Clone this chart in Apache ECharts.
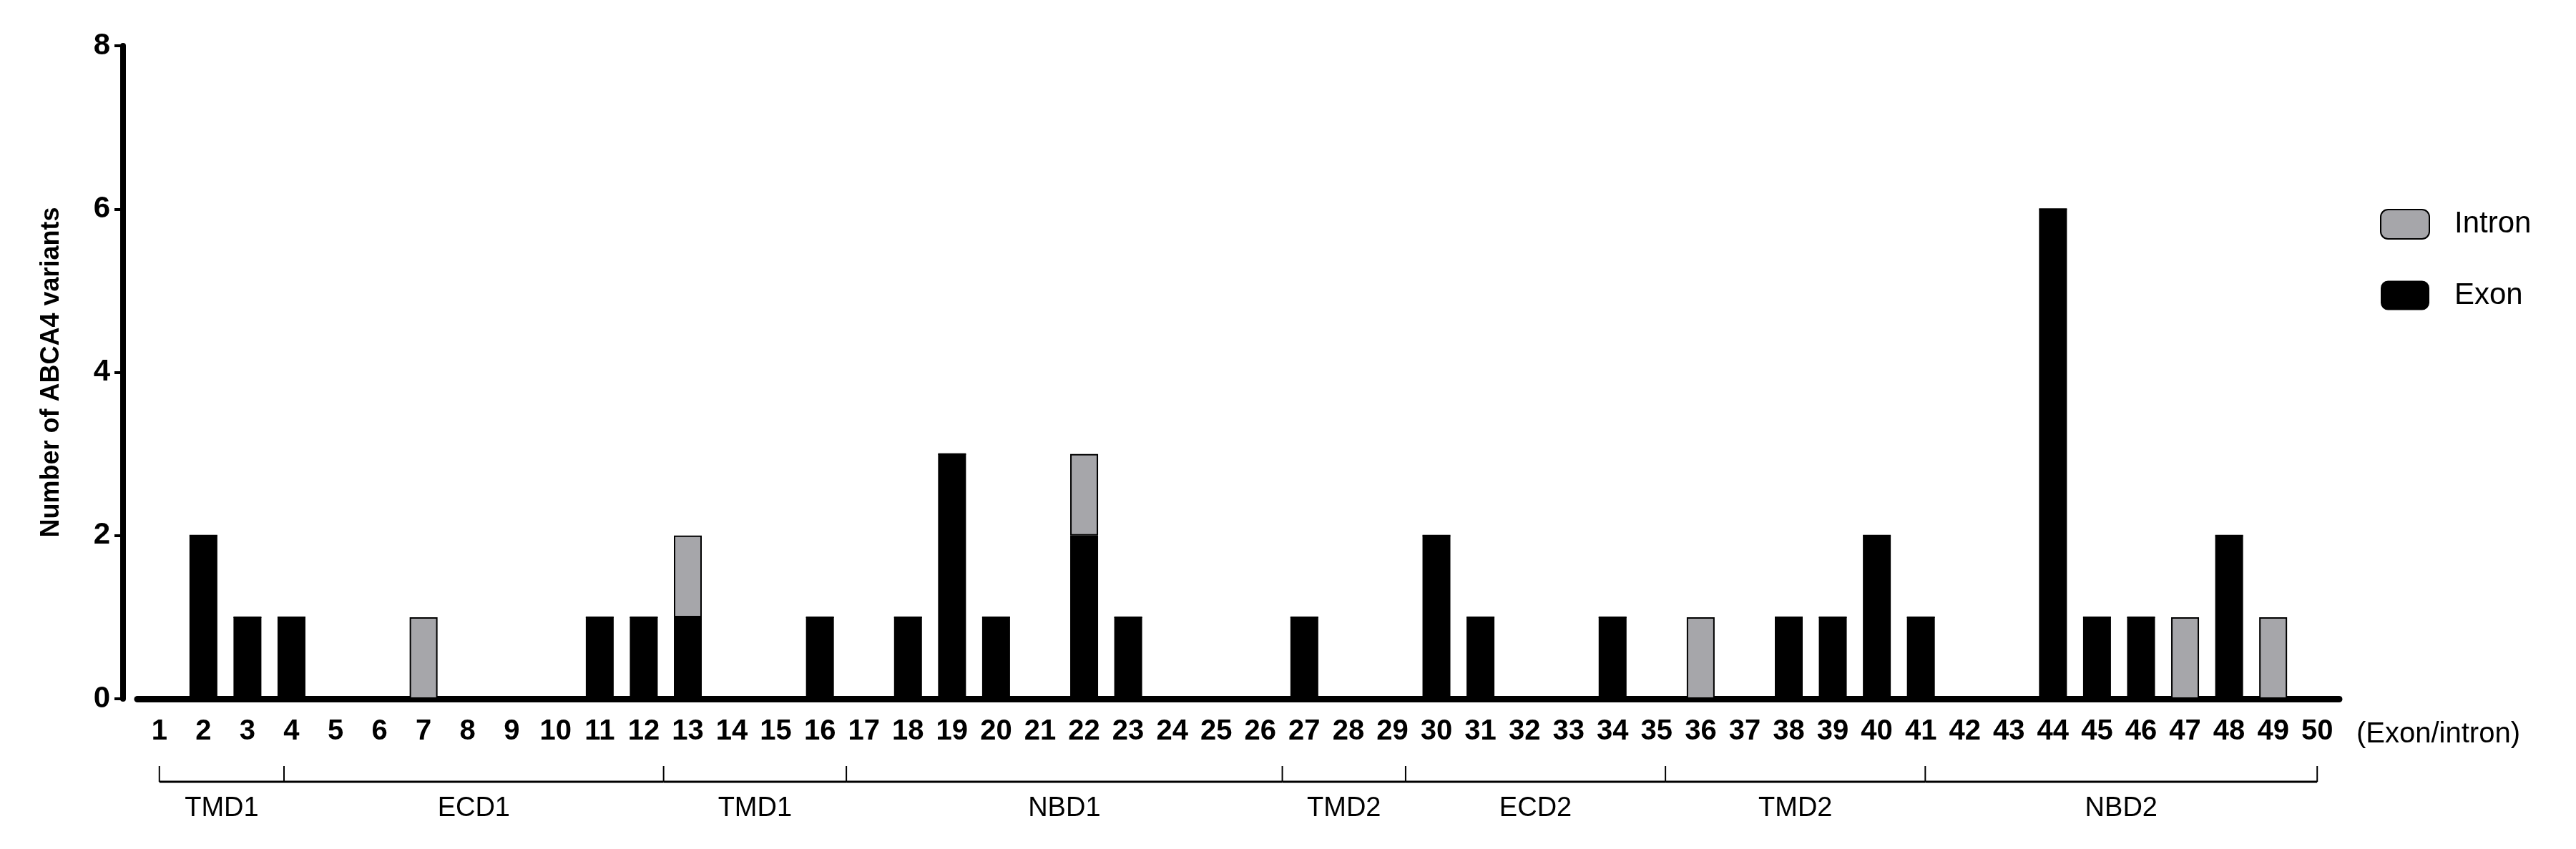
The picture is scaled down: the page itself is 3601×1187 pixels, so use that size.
<!DOCTYPE html>
<html>
<head>
<meta charset="utf-8">
<script src="https://cdn.jsdelivr.net/npm/echarts@6/dist/echarts.min.js"></script>
<style>html,body{margin:0;background:#fff}#chart{width:3601px;height:1187px}</style>
</head>
<body>
<div id="chart"></div>
<script>
var categories = [];
for (var i = 1; i <= 50; i++) categories.push(String(i));

// [exon/intron number, count]
var exonCounts = [[2,2],[3,1],[4,1],[11,1],[12,1],[13,1],[16,1],[18,1],[19,3],[20,1],[22,2],[23,1],
  [27,1],[30,2],[31,1],[34,1],[38,1],[39,1],[40,2],[41,1],[44,6],[45,1],[46,1],[48,2]];
var intronCounts = [[7,1],[13,1],[22,1],[36,1],[47,1],[49,1]];

// domain brackets: [start, end, name] in exon units
var domains = [[1,3.83,'TMD1'],[3.83,12.45,'ECD1'],[12.45,16.6,'TMD1'],[16.6,26.5,'NBD1'],
  [26.5,29.3,'TMD2'],[29.3,35.2,'ECD2'],[35.2,41.1,'TMD2'],[41.1,50,'NBD2']];

function toSeries(pairs) {
  var out = categories.map(function() { return 0; });
  pairs.forEach(function(p) { out[p[0] - 1] = p[1]; });
  return out;
}

var font = '"Liberation Sans Narrow", "Liberation Sans", Arial, sans-serif';
var myChart = echarts.init(document.getElementById('chart'), null, { renderer: 'canvas' });

var option = {
  animation: false,
  grid: { left: 192, right: 331, top: 64, bottom: 210 },
  legend: {
    orient: 'vertical', left: 3322, top: 287,
    itemWidth: 68, itemHeight: 41, itemGap: 57,
    data: ['Intron', 'Exon'],
    textStyle: { fontFamily: font, fontSize: 42, color: '#000', padding: [0, 0, 0, 30] }
  },
  xAxis: [{
    type: 'category', data: categories,
    axisLine: { lineStyle: { color: '#000', width: 9 } },
    axisTick: { alignWithLabel: true, length: 16, lineStyle: { color: '#000', width: 4 } },
    axisLabel: { interval: 0, color: '#000', fontFamily: font, fontWeight: 'bold', fontSize: 40, margin: 26 },
    name: '(Exon/intron)', nameLocation: 'end', nameGap: 24,
    nameTextStyle: { fontFamily: font, fontSize: 40, color: '#000', verticalAlign: 'top', padding: [30, 0, 0, 0] }
  }, {
    type: 'value', min: 0.5, max: 50.5, show: false
  }],
  yAxis: {
    type: 'value', min: 0, max: 8, interval: 2, offset: 20,
    name: 'Number of ABCA4 variants', nameLocation: 'middle', nameGap: 82,
    nameTextStyle: { fontFamily: 'Liberation Sans, Arial, sans-serif', fontWeight: 'bold', fontSize: 36, color: '#000' },
    axisLine: { show: true, lineStyle: { color: '#000', width: 8 } },
    axisTick: { show: true, length: 12, lineStyle: { color: '#000', width: 4 } },
    axisLabel: { color: '#000', fontFamily: font, fontWeight: 'bold', fontSize: 42, margin: 18 },
    splitLine: { show: false }
  },
  series: [{
    name: 'Exon', type: 'bar', stack: 'v', barWidth: 39,
    itemStyle: { color: '#000' },
    data: toSeries(exonCounts)
  }, {
    name: 'Intron', type: 'bar', stack: 'v', barWidth: 39,
    itemStyle: { color: '#a6a6aa', borderColor: '#000', borderWidth: 2 },
    data: toSeries(intronCounts)
  }, {
    type: 'custom', xAxisIndex: 1, clip: false, silent: true,
    data: domains,
    renderItem: function(params, api) {
      var a = api.coord([api.value(0) + 0.5, 0]);
      var b = api.coord([api.value(1) + 0.5, 0]);
      var y = a[1] + 116;
      var children = [
        { type: 'line', shape: { x1: a[0], y1: y, x2: b[0], y2: y }, style: { stroke: '#000', lineWidth: 3 } },
        { type: 'line', shape: { x1: a[0], y1: y - 22, x2: a[0], y2: y }, style: { stroke: '#000', lineWidth: 2 } },
        { type: 'text', style: { x: (a[0] + b[0]) / 2, y: y + 38, text: domains[params.dataIndex][2],
          align: 'center', verticalAlign: 'middle', font: '38px ' + font, fill: '#000' } }
      ];
      if (params.dataIndex === domains.length - 1) {
        children.push({ type: 'line', shape: { x1: b[0], y1: y - 22, x2: b[0], y2: y }, style: { stroke: '#000', lineWidth: 2 } });
      }
      return { type: 'group', children: children };
    }
  }]
};

// the value axis is 0.5..50.5, so shift domain positions back by 0.5 in renderItem
option.series[2].data = domains.map(function(d) { return [d[0] - 0.5, d[1] - 0.5, d[2]]; });

myChart.setOption(option);
window.addEventListener('resize', myChart.resize);
</script>
</body>
</html>
